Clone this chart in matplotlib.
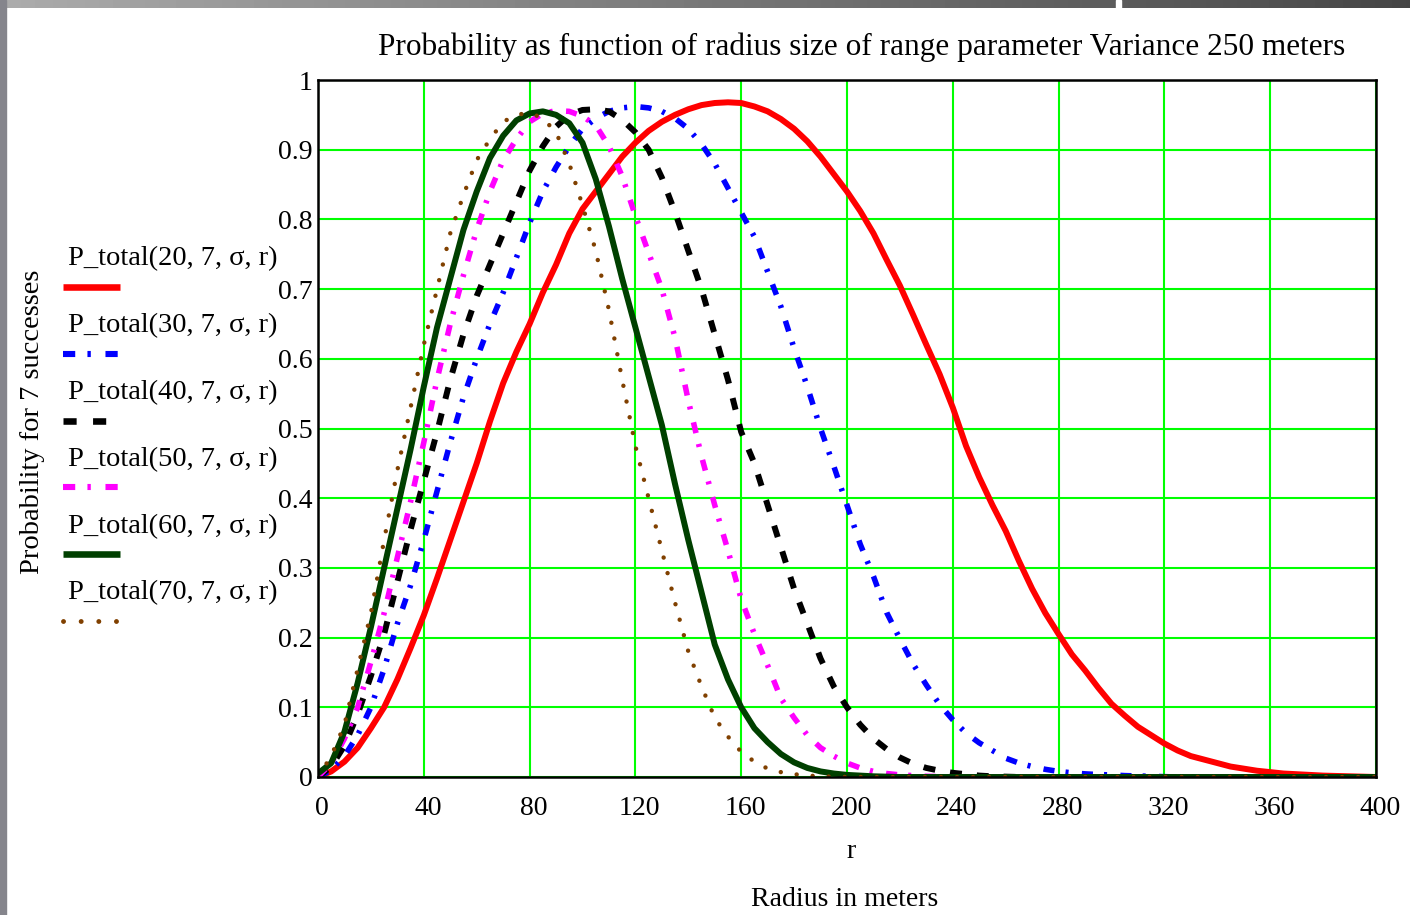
import matplotlib
matplotlib.use("Agg")
import matplotlib.pyplot as plt
import matplotlib.transforms as mtransforms
import numpy as np
from matplotlib.lines import Line2D
from matplotlib.patches import Rectangle

# Mathcad-like look: Times-style serif everywhere
plt.rcParams["font.family"] = ["Liberation Serif", "DejaVu Serif"]
plt.rcParams["font.size"] = 20

# radius grid (meters), step 5 from 0 to 400
r = list(range(0, 405, 5))

# probabilities, one value per 5 m
p20 = [0, 0.008, 0.022, 0.042, 0.07, 0.10, 0.14, 0.185, 0.232, 0.285,
       0.34, 0.395, 0.45, 0.51, 0.565, 0.61, 0.65, 0.695, 0.735, 0.78,
       0.815, 0.84, 0.865, 0.89, 0.91, 0.927, 0.94, 0.95, 0.958, 0.964,
       0.967, 0.968, 0.967, 0.962, 0.955, 0.944, 0.93, 0.912, 0.89, 0.865,
       0.84, 0.812, 0.78, 0.742, 0.705, 0.663, 0.62, 0.578, 0.53, 0.475,
       0.43, 0.39, 0.353, 0.31, 0.27, 0.235, 0.205, 0.176, 0.153, 0.128,
       0.105, 0.088, 0.072, 0.06, 0.048, 0.038, 0.03, 0.025, 0.02, 0.015,
       0.012, 0.009, 0.007, 0.005, 0.004, 0.003, 0.002, 0.0015, 0.001, 0.0005,
       0]
p30 = [0, 0.01, 0.03, 0.06, 0.10, 0.155, 0.22, 0.275, 0.34, 0.41,
       0.48, 0.545, 0.60, 0.65, 0.695, 0.745, 0.795, 0.84, 0.875, 0.905,
       0.93, 0.945, 0.955, 0.96, 0.962, 0.96, 0.955, 0.945, 0.93, 0.908,
       0.88, 0.845, 0.81, 0.775, 0.725, 0.675, 0.615, 0.56, 0.50, 0.446,
       0.39, 0.334, 0.288, 0.236, 0.198, 0.162, 0.132, 0.104, 0.082, 0.063,
       0.049, 0.038, 0.027, 0.02, 0.015, 0.011, 0.008, 0.006, 0.0045, 0.0035,
       0.003, 0.002, 0.0015, 0.001, 0.0005, 0, 0, 0, 0, 0,
       0, 0, 0, 0, 0, 0, 0, 0, 0, 0,
       0]
p40 = [0, 0.015, 0.045, 0.09, 0.145, 0.205, 0.28, 0.355, 0.425, 0.495,
       0.57, 0.635, 0.69, 0.735, 0.78, 0.825, 0.87, 0.905, 0.933, 0.95,
       0.957, 0.958, 0.955, 0.943, 0.925, 0.9, 0.86, 0.81, 0.755, 0.70,
       0.635, 0.57, 0.495, 0.45, 0.39, 0.33, 0.27, 0.22, 0.17, 0.13,
       0.10, 0.075, 0.055, 0.04, 0.028, 0.019, 0.013, 0.009, 0.006, 0.004,
       0.002, 0.001, 0.0005, 0, 0, 0, 0, 0, 0, 0,
       0, 0, 0, 0, 0, 0, 0, 0, 0, 0,
       0, 0, 0, 0, 0, 0, 0, 0, 0, 0,
       0]
p50 = [0, 0.02, 0.055, 0.10, 0.165, 0.235, 0.315, 0.395, 0.48, 0.57,
       0.65, 0.72, 0.785, 0.84, 0.885, 0.915, 0.94, 0.952, 0.956, 0.955,
       0.948, 0.935, 0.905, 0.862, 0.805, 0.752, 0.70, 0.63, 0.54, 0.46,
       0.39, 0.325, 0.255, 0.205, 0.16, 0.113, 0.085, 0.06, 0.042, 0.03,
       0.02, 0.013, 0.008, 0.005, 0.003, 0.002, 0.001, 0.0005, 0, 0,
       0, 0, 0, 0, 0, 0, 0, 0, 0, 0,
       0, 0, 0, 0, 0, 0, 0, 0, 0, 0,
       0, 0, 0, 0, 0, 0, 0, 0, 0, 0,
       0]
p60 = [0.005, 0.02, 0.065, 0.135, 0.215, 0.3, 0.385, 0.47, 0.56, 0.645,
       0.715, 0.785, 0.84, 0.888, 0.92, 0.942, 0.952, 0.955, 0.95, 0.938,
       0.91, 0.858, 0.79, 0.715, 0.645, 0.575, 0.505, 0.42, 0.34, 0.265,
       0.19, 0.14, 0.10, 0.07, 0.05, 0.033, 0.021, 0.013, 0.008, 0.005,
       0.003, 0.002, 0.001, 0.0005, 0, 0, 0, 0, 0, 0,
       0, 0, 0, 0, 0, 0, 0, 0, 0, 0,
       0, 0, 0, 0, 0, 0, 0, 0, 0, 0,
       0, 0, 0, 0, 0, 0, 0, 0, 0, 0,
       0]
p70 = [0, 0.03, 0.075, 0.155, 0.235, 0.34, 0.44, 0.53, 0.62, 0.70,
       0.78, 0.835, 0.885, 0.915, 0.94, 0.95, 0.953, 0.945, 0.925, 0.88,
       0.82, 0.755, 0.67, 0.57, 0.475, 0.40, 0.325, 0.25, 0.18, 0.13,
       0.085, 0.058, 0.036, 0.022, 0.012, 0.007, 0.004, 0.002, 0.001, 0.0005,
       0, 0, 0, 0, 0, 0, 0, 0, 0, 0,
       0, 0, 0, 0, 0, 0, 0, 0, 0, 0,
       0, 0, 0, 0, 0, 0, 0, 0, 0, 0,
       0, 0, 0, 0, 0, 0, 0, 0, 0, 0,
       0]

labels = ["P_total(20, 7, \u03c3, r)", "P_total(30, 7, \u03c3, r)",
          "P_total(40, 7, \u03c3, r)", "P_total(50, 7, \u03c3, r)",
          "P_total(60, 7, \u03c3, r)", "P_total(70, 7, \u03c3, r)"]
yticklabels = ["0", "0.1", "0.2", "0.3", "0.4", "0.5", "0.6", "0.7",
               "0.8", "0.9", "1"]

# color, linewidth (pt), linestyle, capstyle
styles = [
    ("#ff0000", 4.3, "-", "butt"),
    ("#0000ff", 4.0, (0, (2.0, 2.0, 0.55, 2.4)), "butt"),
    ("#000000", 4.3, (0, (2.0, 2.5)), "butt"),
    ("#ff00ff", 4.0, (0, (2.0, 2.0, 0.55, 2.4)), "butt"),
    ("#004000", 4.3, "-", "butt"),
    ("#804000", 3.2, (0, (0.01, 3.6)), "round"),
]
series = [p20, p30, p40, p50, p60, p70]

W, H = 1410, 915
fig = plt.figure(figsize=(W / 100, H / 100), dpi=100)
ax = fig.add_axes([318 / W, 1 - 777 / H, (1376 - 318) / W, (777 - 80) / H])

for ys, (c, lw, ls, cap) in zip(series, styles):
    ax.plot(r, ys, color=c, lw=lw, linestyle=ls,
            dash_capstyle=cap, solid_capstyle="butt",
            solid_joinstyle="round", zorder=3)

ax.set_xlim(0, 400)
ax.set_ylim(0, 1)
ax.set_xticks(np.arange(0, 401, 40))
ax.set_yticks(np.round(np.arange(0, 1.01, 0.1), 1))
ax.set_yticklabels(yticklabels)
ax.grid(True, color="#00ff00", lw=1.5, zorder=1)
ax.set_axisbelow(True)
ax.tick_params(length=0, labelsize=20)
ax.tick_params(axis="x", pad=14)
ax.tick_params(axis="y", pad=4)
for s in ax.spines.values():
    s.set_color("black")
    s.set_linewidth(1.8)
    s.set_zorder(4)

# Mathcad puts the x numbers a touch right of the gridline
shift = mtransforms.ScaledTranslation(4 / 100, 0, fig.dpi_scale_trans)
for lbl in ax.get_xticklabels():
    lbl.set_transform(lbl.get_transform() + shift)

# titles and axis captions
fig.text(862 / W, 1 - 47 / H,
         "Probability as function of radius size of range parameter Variance 250 meters",
         ha="center", va="center", fontsize=22.5)
fig.text(851 / W, 1 - 851 / H, "r", ha="center", va="center", fontsize=20)
fig.text(845 / W, 1 - 900 / H, "Radius in meters", ha="center", va="center", fontsize=20)
fig.text(33 / W, 1 - 422 / H, "Probability for 7 successes", rotation=90,
         ha="center", va="center", fontsize=20.5)

# Mathcad-style legend: label above a short line sample
for i, (lab, (c, lw, ls, cap)) in enumerate(zip(labels, styles)):
    ty = 259 + i * 66.8
    ly = 287 + i * 66.8
    fig.text(68 / W, 1 - ty / H, lab, ha="left", va="center", fontsize=20.5)
    fig.add_artist(Line2D([63 / W, 120 / W], [1 - ly / H, 1 - ly / H],
                          color=c, lw=lw * 1.1, linestyle=ls,
                          dash_capstyle=cap, solid_capstyle="butt",
                          transform=fig.transFigure))

# screenshot frame: gray strip on top and at left edge
bar = fig.add_axes([0, 1 - 8 / H, 1, 8 / H])
grad = np.linspace(0, 1, 400)
bar.imshow(grad[np.newaxis, :], aspect="auto", cmap="Greys",
           vmin=-1.2, vmax=1.6, extent=[0, W, 0, 1])
bar.add_patch(Rectangle((1116, 0), 5, 1, color="white"))
bar.set_xlim(0, W)
bar.axis("off")
fig.add_artist(Rectangle((0, 0), 6 / W, 1, color="#85858c",
                         transform=fig.transFigure))

fig.savefig("out.png", dpi=100)
